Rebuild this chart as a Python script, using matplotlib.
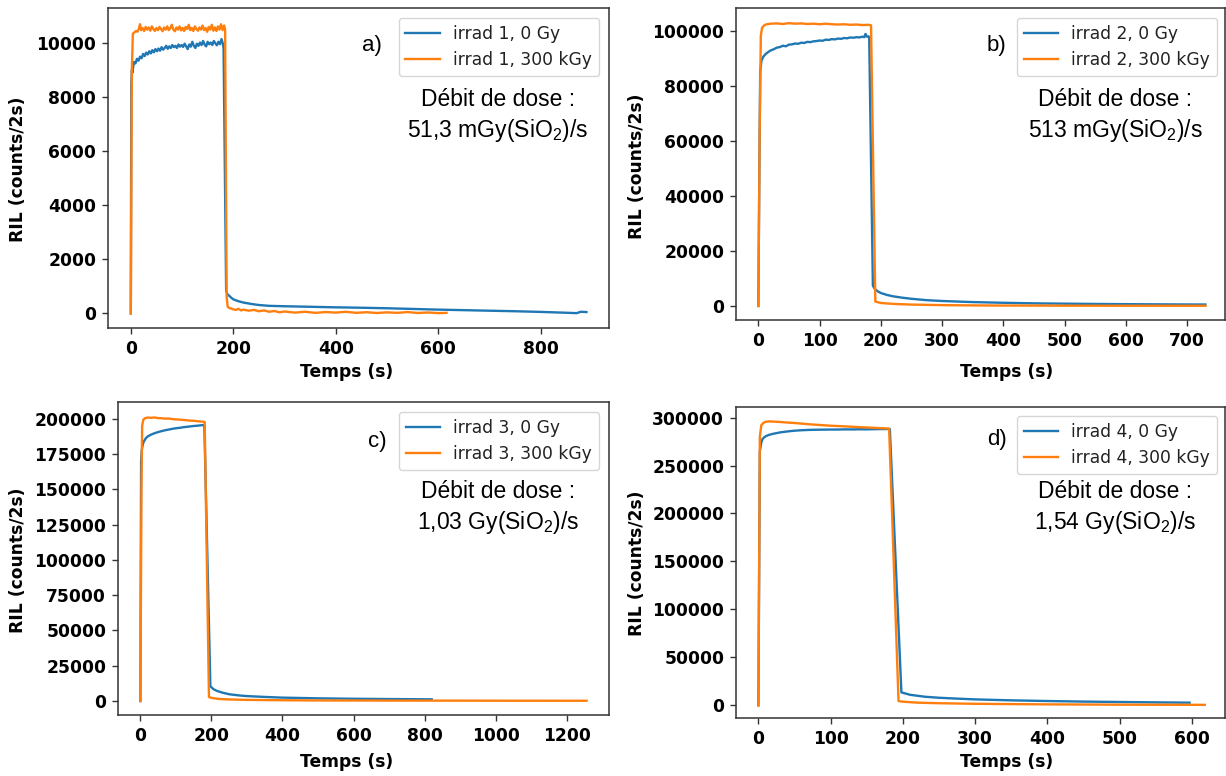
import matplotlib
matplotlib.use('Agg')
from matplotlib import pyplot as plt

W, H = 1226, 776

# ---- panel a : irrad 1 (51,3 mGy/s) ----
a_t0 = [0, 1, 2, 3, 6, 9, 12, 15, 18, 21, 24, 27, 30, 33, 36, 39, 42, 45, 48, 51, 54, 57, 60,
        63, 66, 69, 72, 75, 78, 81, 84, 87, 90, 93, 96, 99, 102, 105, 108, 111, 114, 117, 120,
        123, 126, 129, 132, 135, 138, 141, 144, 147, 150, 153, 156, 159, 162, 165, 168, 171,
        174, 177, 180, 181, 186, 188, 192, 196, 200, 210, 220, 235, 250, 270, 300, 350, 400,
        450, 500, 550, 600, 650, 700, 750, 800, 840, 870, 873, 878, 884, 889]
a_y0 = [0, 8500, 9000, 8900, 9300, 9250, 9420, 9350, 9500, 9440, 9600, 9520, 9650, 9580, 9700,
        9620, 9740, 9660, 9780, 9700, 9800, 9720, 9850, 9760, 9820, 9900, 9790, 9880, 9820,
        9930, 9850, 9900, 9820, 9950, 9870, 9930, 9860, 9980, 9880, 9780, 9950, 9870, 10050,
        9900, 9820, 9980, 9900, 10020, 9930, 10080, 9950, 9880, 10050, 9960, 10020, 9930,
        10080, 9990, 9920, 10050, 9960, 10150, 9950, 9800, 850, 720, 650, 580, 520, 450, 400,
        350, 310, 280, 265, 245, 225, 210, 190, 165, 140, 120, 100, 80, 55, 30, 10, 30, 60, 55, 50]
a_t300 = [0, 2, 4, 7, 10, 13, 16, 18, 20, 23, 26, 29, 32, 35, 38, 41, 44, 47, 50, 53, 56, 59,
          62, 65, 68, 71, 74, 77, 80, 83, 86, 89, 92, 95, 98, 101, 104, 107, 110, 113, 116, 119,
          122, 125, 128, 131, 134, 137, 140, 143, 146, 149, 152, 155, 158, 161, 164, 167, 170,
          173, 176, 179, 182, 184, 187, 189, 192, 196, 200, 205, 210, 215, 220, 230, 240, 250,
          260, 270, 280, 290, 300, 320, 340, 360, 380, 400, 420, 440, 460, 480, 500, 520, 540,
          560, 580, 600, 616]
a_y300 = [0, 9000, 10350, 10400, 10450, 10420, 10550, 10700, 10480, 10560, 10450, 10600, 10500,
          10580, 10460, 10620, 10520, 10450, 10560, 10480, 10600, 10520, 10440, 10580, 10500,
          10620, 10480, 10560, 10680, 10500, 10440, 10580, 10500, 10620, 10470, 10560, 10450,
          10600, 10520, 10680, 10480, 10560, 10450, 10620, 10520, 10460, 10580, 10500, 10650,
          10480, 10560, 10420, 10600, 10500, 10680, 10460, 10580, 10450, 10620, 10500, 10700,
          10480, 10650, 10500, 600, 250, 200, 180, 150, 130, 170, 110, 140, 100, 130, 80, 110,
          60, 90, 40, 70, 30, 60, 20, 50, 30, 60, 20, 45, 15, 40, 20, 50, 15, 35, 10, 20]

# ---- panel b : irrad 2 (513 mGy/s) ----
b_t0 = [0, 2, 3, 5, 8, 12, 16, 20, 25, 30, 35, 40, 45, 50, 55, 60, 65, 70, 75, 80, 85, 90, 95,
        100, 105, 110, 115, 120, 125, 130, 135, 140, 145, 150, 155, 160, 165, 170, 173, 175,
        177, 180, 181, 187, 190, 195, 200, 210, 220, 235, 250, 275, 300, 350, 400, 450, 500,
        550, 600, 650, 700, 730]
b_y0 = [0, 60000, 85000, 89000, 90500, 91500, 92200, 92800, 93200, 93800, 94000, 94500, 94300,
        94900, 95000, 95300, 95200, 95600, 95500, 95900, 95800, 96100, 96200, 96400, 96300,
        96700, 96600, 96900, 96800, 97100, 97000, 97300, 97200, 97500, 97400, 97600, 97500,
        97800, 97600, 98800, 97800, 97900, 97500, 7400, 6200, 5300, 4700, 4000, 3500, 3000,
        2600, 2100, 1800, 1400, 1150, 950, 830, 730, 650, 590, 540, 520]
b_t300 = [0, 2, 4, 6, 9, 12, 20, 30, 40, 50, 60, 70, 80, 90, 100, 110, 120, 130, 140, 150, 160,
          170, 180, 184, 191, 196, 200, 210, 225, 250, 300, 350, 400, 500, 600, 730]
b_y300 = [0, 60000, 98000, 101000, 101800, 102200, 102500, 102600, 102400, 102700, 102500,
          102600, 102400, 102500, 102300, 102500, 102300, 102200, 102300, 102100, 102200, 102000,
          102100, 101900, 1600, 1300, 1100, 900, 700, 500, 300, 200, 150, 100, 80, 60]

# ---- panel c : irrad 3 (1,03 Gy/s) ----
c_t0 = [0, 2, 4, 7, 10, 15, 20, 30, 40, 50, 60, 70, 80, 90, 100, 110, 120, 130, 140, 150, 160,
        170, 180, 197, 205, 215, 230, 250, 280, 300, 350, 400, 500, 600, 700, 820]
c_y0 = [0, 170000, 178000, 182000, 184000, 186000, 187300, 188700, 189700, 190500, 191200,
        191800, 192300, 192800, 193200, 193500, 193900, 194200, 194500, 194800, 195000, 195300,
        195500, 10500, 8500, 7200, 6000, 4800, 3900, 3500, 2900, 2400, 1900, 1600, 1400, 1200]
c_t300 = [0, 3, 5, 8, 12, 20, 30, 40, 50, 60, 70, 80, 90, 100, 110, 120, 130, 140, 150, 160, 170,
          178, 181, 193, 200, 220, 250, 300, 400, 500, 700, 900, 1100, 1256]
c_y300 = [0, 150000, 195000, 199000, 200200, 200800, 200600, 200800, 200400, 200300, 200000,
          200100, 199700, 199500, 199300, 199100, 198900, 198600, 198500, 198200, 198000, 197800,
          197500, 2900, 2200, 1500, 1100, 800, 550, 400, 300, 250, 200, 180]

# ---- panel d : irrad 4 (1,54 Gy/s) ----
d_t0 = [0, 2, 4, 6, 10, 15, 20, 30, 40, 50, 60, 70, 80, 90, 100, 110, 120, 130, 140, 150, 160,
        170, 182, 198, 210, 230, 250, 275, 300, 350, 400, 450, 500, 550, 597]
d_y0 = [0, 265000, 274000, 278000, 280500, 282000, 283000, 284500, 285500, 286300, 286800,
        287100, 287300, 287400, 287500, 287500, 287700, 287600, 287800, 287700, 287900, 288000,
        288000, 13500, 11000, 9000, 7900, 7000, 6200, 5200, 4500, 3900, 3500, 3100, 2800]
d_t300 = [0, 2, 4, 7, 10, 15, 20, 30, 40, 50, 60, 70, 80, 90, 100, 120, 140, 160, 181, 194, 200,
          220, 250, 300, 400, 500, 618]
d_y300 = [0, 280000, 292000, 294500, 295500, 296000, 295800, 295400, 294800, 294300, 293700,
          293000, 292500, 292000, 291500, 290800, 290000, 289300, 288500, 4500, 3800, 2800, 2200,
          1600, 1000, 700, 500]

series_t = [(a_t0, a_t300), (b_t0, b_t300), (c_t0, c_t300), (d_t0, d_t300)]
series_y = [(a_y0, a_y300), (b_y0, b_y300), (c_y0, c_y300), (d_y0, d_y300)]
legend_labels = [("irrad 1, 0 Gy", "irrad 1, 300 kGy"),
                 ("irrad 2, 0 Gy", "irrad 2, 300 kGy"),
                 ("irrad 3, 0 Gy", "irrad 3, 300 kGy"),
                 ("irrad 4, 0 Gy", "irrad 4, 300 kGy")]
x_ticks = [[0, 200, 400, 600, 800],
           [0, 100, 200, 300, 400, 500, 600, 700],
           [0, 200, 400, 600, 800, 1000, 1200],
           [0, 100, 200, 300, 400, 500, 600]]
y_ticks = [[0, 2000, 4000, 6000, 8000, 10000],
           [0, 20000, 40000, 60000, 80000, 100000],
           [0, 25000, 50000, 75000, 100000, 125000, 150000, 175000, 200000],
           [0, 50000, 100000, 150000, 200000, 250000, 300000]]
x_lims = [(-44.5, 933), (-36.5, 762), (-63, 1319), (-31, 646)]
y_lims = [(-540, 11300), (-5100, 108200), (-9900, 211800), (-13200, 311000)]
panel_tags = ["a)", "b)", "c)", "d)"]
rates = ["51,3 mGy(SiO$_\\mathregular{2}$)/s", "513 mGy(SiO$_\\mathregular{2}$)/s",
         "1,03 Gy(SiO$_\\mathregular{2}$)/s", "1,54 Gy(SiO$_\\mathregular{2}$)/s"]

# layout in pixels (left, top, right, bottom) and label anchors
boxes = [(108, 8, 609, 328), (736, 8, 1225, 320), (118, 402, 609, 715), (736, 407, 1225, 718)]
xlabel_pos = [(347, 372), (1007, 372), (347, 762), (1007, 762)]
ylabel_pos = [(18, 169), (637, 166), (18, 560), (637, 563)]
legend_pos = [(599, 18), (1217, 18), (599, 412), (1217, 416)]
tag_pos = [(372, 45), (996, 45), (377, 441), (997, 439)]
rate_pos = [(498, 99), (1115, 99), (498, 491), (1115, 491)]

plt.rcParams['font.family'] = 'DejaVu Sans'
FS = 12.3
blue, orange = '#1f77b4', '#ff7f0e'

fig = plt.figure(figsize=(W / 100, H / 100), dpi=100)

def fig_xy(p):
    return p[0] / W, 1 - p[1] / H

for i in range(4):
    l, t, r, b = boxes[i]
    ax = fig.add_axes([l / W, 1 - b / H, (r - l) / W, (b - t) / H])
    t0, t300 = series_t[i]
    y0, y300 = series_y[i]
    ax.plot(t0, y0, color=blue, lw=1.7, label=legend_labels[i][0])
    ax.plot(t300, y300, color=orange, lw=1.7, label=legend_labels[i][1])
    ax.set_xlim(*x_lims[i])
    ax.set_ylim(*y_lims[i])
    ax.set_xticks(x_ticks[i])
    ax.set_yticks(y_ticks[i])
    ax.tick_params(labelsize=FS, length=4.5, width=1, color='#333333', pad=4)
    for lab in ax.get_xticklabels() + ax.get_yticklabels():
        lab.set_fontweight('bold')
    for sp in ax.spines.values():
        sp.set_color('#333333')
        sp.set_linewidth(1.1)
    ax.set_xlabel("Temps (s)", fontsize=FS, fontweight='bold', va='center')
    ax.set_ylabel("RIL (counts/2s)", fontsize=FS, fontweight='bold', va='center')
    ax.xaxis.set_label_coords(*fig_xy(xlabel_pos[i]), transform=fig.transFigure)
    ax.yaxis.set_label_coords(*fig_xy(ylabel_pos[i]), transform=fig.transFigure)
    leg = ax.legend(loc='upper right', bbox_to_anchor=fig_xy(legend_pos[i]),
                    bbox_transform=fig.transFigure, borderaxespad=0, fontsize=FS)
    for txt in leg.get_texts():
        txt.set_color('#222222')
    tx, ty = fig_xy(tag_pos[i])
    fig.text(tx, ty, panel_tags[i], fontsize=16, family='Liberation Sans',
             ha='center', va='center')
    rx, ry = fig_xy(rate_pos[i])
    fig.text(rx, ry, "Débit de dose :", fontsize=16.5, family='Liberation Sans',
             ha='center', va='center')
    fig.text(rx, ry - 31 / H, rates[i], fontsize=16.5, family='Liberation Sans',
             ha='center', va='center')

fig.savefig('out.png', dpi=100)
